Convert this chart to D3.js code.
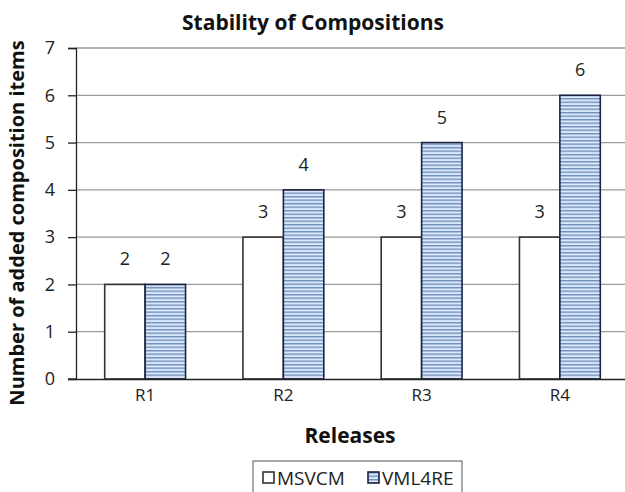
<!DOCTYPE html>
<html><head><meta charset="utf-8">
<script src="https://cdn.jsdelivr.net/npm/d3@7"></script>
<style>body{margin:0;background:#fff}svg{display:block}</style>
</head><body><svg id="c" width="625" height="492"></svg>
<script>
const categories = ["R1","R2","R3","R4"];
const seriesNames = ["MSVCM","VML4RE"];
const msvcm = [2,3,3,3];
const vml4re = [2,4,5,6];
const yTicks = [0,1,2,3,4,5,6,7];

const svg = d3.select("#c");
const font = "'Open Sans', 'Liberation Sans', sans-serif";
const m = {left:76, right:629, top:48, bottom:379};

const defs = svg.append("defs");
const pat = defs.append("pattern").attr("id","stripes").attr("patternUnits","userSpaceOnUse")
  .attr("width",8).attr("height",3.5);
pat.append("rect").attr("width",8).attr("height",3.5).attr("fill","#dbe8f7");
pat.append("rect").attr("y",0).attr("width",8).attr("height",1.4).attr("fill","#6f8fc2");

const x = d3.scaleBand().domain(categories).range([m.left,m.right]);
const xi = d3.scaleBand().domain(seriesNames).range([0,x.bandwidth()]).paddingInner(0).paddingOuter(0.71);
const y = d3.scaleLinear().domain([0,7]).range([m.bottom,m.top]);

// gridlines
svg.append("g").selectAll("line").data(yTicks.filter(d=>d>0)).join("line")
  .attr("x1",m.left).attr("x2",625).attr("y1",d=>y(d)).attr("y2",d=>y(d))
  .attr("stroke","#9a9a9a").attr("stroke-width",1.3);

// y axis
const ya = svg.append("g").attr("transform",`translate(${m.left},0)`)
  .call(d3.axisLeft(y).tickValues(yTicks).tickSize(8).tickPadding(13).tickFormat(d3.format("d")));
ya.select(".domain").attr("stroke","#222").attr("stroke-width",1.3);
ya.selectAll(".tick line").attr("stroke","#222").attr("stroke-width",1.3);
ya.selectAll("text").attr("font-family",font).attr("font-size",18).attr("fill","#222");

const data = categories.map((c,i)=>({c, vals:[{s:"MSVCM",v:msvcm[i]},{s:"VML4RE",v:vml4re[i]}]}));
const g = svg.append("g").selectAll("g").data(data).join("g")
  .attr("transform",d=>`translate(${x(d.c)},0)`);
g.selectAll("rect").data(d=>d.vals).join("rect")
  .attr("x",d=>xi(d.s)).attr("width",xi.bandwidth())
  .attr("y",d=>y(d.v)).attr("height",d=>y(0)-y(d.v))
  .attr("fill",d=>d.s==="MSVCM"?"#fff":"url(#stripes)")
  .attr("stroke",d=>d.s==="MSVCM"?"#333":"#1c2540").attr("stroke-width",1.6);
g.selectAll("text").data(d=>d.vals).join("text")
  .attr("x",d=>xi(d.s)+xi.bandwidth()/2).attr("y",d=>y(d.v)-19)
  .attr("text-anchor","middle").attr("font-family",font).attr("font-size",18).attr("fill","#222")
  .text(d=>d.v);

// x axis
const xa = svg.append("g").attr("transform",`translate(0,${m.bottom})`)
  .call(d3.axisBottom(x).tickSize(0).tickPadding(10));
xa.select(".domain").attr("stroke","#222").attr("stroke-width",1.3);
xa.selectAll("text").attr("font-family",font).attr("font-size",17).attr("fill","#222");
svg.append("line").attr("x1",68).attr("x2",m.left).attr("y1",m.bottom).attr("y2",m.bottom).attr("stroke","#222").attr("stroke-width",1.3);

// titles
svg.append("text").attr("x",313).attr("y",30).attr("text-anchor","middle")
  .attr("font-family",font).attr("font-weight","bold").attr("font-size",21).attr("fill","#111")
  .text("Stability of Compositions");
svg.append("text").attr("x",350).attr("y",443).attr("text-anchor","middle")
  .attr("font-family",font).attr("font-weight","bold").attr("font-size",21).attr("fill","#111")
  .text("Releases");
svg.append("text").attr("transform","translate(24,223) rotate(-90)").attr("text-anchor","middle")
  .attr("font-family",font).attr("font-weight","bold").attr("font-size",20).attr("fill","#111")
  .text("Number of added composition items");

// legend
const lg = svg.append("g");
lg.append("rect").attr("x",253).attr("y",461).attr("width",209).attr("height",50)
  .attr("fill","#fff").attr("stroke","#555").attr("stroke-width",1);
const items = lg.selectAll("g").data(seriesNames).join("g")
  .attr("transform",(d,i)=>`translate(${i===0?263:368},472)`);
items.append("rect").attr("width",11).attr("height",11)
  .attr("fill",d=>d==="MSVCM"?"#fff":"url(#stripes)")
  .attr("stroke",d=>d==="MSVCM"?"#333":"#1c2540").attr("stroke-width",1.6);
items.append("text").attr("x",14).attr("y",12.5).attr("font-family",font).attr("font-size",19).attr("fill","#222")
  .text(d=>d);
</script></body></html>
